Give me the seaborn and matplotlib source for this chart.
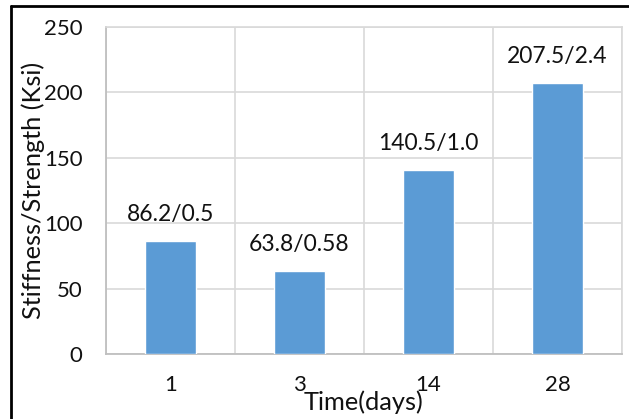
import matplotlib
matplotlib.use("Agg")
import matplotlib.pyplot as plt
from matplotlib.lines import Line2D
import seaborn as sns
import pandas as pd

# Curing time and measured stiffness / strength
days = ["1", "3", "14", "28"]
stiffness = [86.2, 63.8, 140.5, 207.5]
strength_labels = ["0.5", "0.58", "1.0", "2.4"]
y_ticks = [0, 50, 100, 150, 200, 250]

sns.set_theme(style="white")
plt.rcParams["font.family"] = ["Lato", "DejaVu Sans"]

TICK_FS = 16
ANN_FS = 16.5
LAB_FS = 18.3
TXT = "#111111"

df = pd.DataFrame({"day": days, "stiffness": stiffness})

fig = plt.figure(figsize=(6.29, 4.19), dpi=100)
ax = fig.add_axes([106 / 629, 65 / 419, 516 / 629, 327 / 419])

sns.barplot(data=df, x="day", y="stiffness", order=days, color="#5B9BD5",
            width=0.4, saturation=1, ax=ax, zorder=3)

ax.set_ylim(0, 250)
ax.set_xlim(-0.5, len(days) - 0.5)
ax.set_yticks(y_ticks)

# category boundaries as vertical grid lines
ax.set_xticks([i - 0.5 for i in range(len(days) + 1)], minor=True)
ax.grid(axis="y", which="major", color="#d9d9d9", linewidth=1.2, zorder=0)
ax.grid(axis="x", which="minor", color="#d9d9d9", linewidth=1.2, zorder=0)
ax.grid(axis="x", which="major", visible=False)
ax.set_axisbelow(True)

ax.tick_params(axis="both", which="both", length=0, labelsize=TICK_FS,
               labelcolor=TXT)
ax.tick_params(axis="y", pad=17)
ax.tick_params(axis="x", pad=15)

for side in ("left", "bottom"):
    ax.spines[side].set_color("#bfbfbf")
    ax.spines[side].set_linewidth(1.3)
for side in ("top", "right"):
    ax.spines[side].set_color("#d9d9d9")
    ax.spines[side].set_linewidth(1.2)

# value labels above bars
for i, (v, s) in enumerate(zip(stiffness, strength_labels)):
    ax.annotate(f"{v}/{s}", xy=(i, v), xytext=(0, 19), textcoords="offset points",
                ha="center", va="center", fontsize=ANN_FS, color=TXT)

ax.set_xlabel("Time(days)", fontsize=LAB_FS, color=TXT)
ax.set_ylabel("Stiffness/Strength (Ksi)", fontsize=LAB_FS, color=TXT)
ax.xaxis.set_label_coords(0.5, -0.147)
ax.xaxis.label.set_va("center")
ax.yaxis.set_label_coords(-0.1415, 0.5)
ax.yaxis.label.set_va("center")

# outer frame
fig.add_artist(Line2D([11 / 629, 1.0], [1 - 6 / 419, 1 - 6 / 419],
                      transform=fig.transFigure, color="black", linewidth=2))
fig.add_artist(Line2D([11 / 629, 11 / 629], [0.0, 1 - 6 / 419],
                      transform=fig.transFigure, color="black", linewidth=2))

fig.savefig("out.png", dpi=100)
